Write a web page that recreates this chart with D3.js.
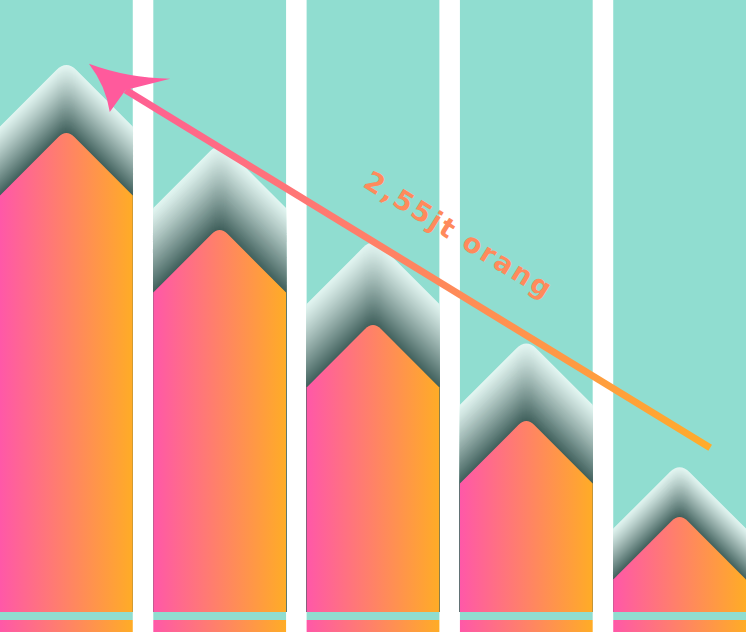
<!DOCTYPE html>
<html>
<head>
<meta charset="utf-8">
<script src="https://cdn.jsdelivr.net/npm/d3@7"></script>
<style>
  html, body { margin: 0; padding: 0; background: #ffffff; }
  svg { display: block; }
</style>
</head>
<body>
<div id="chart"></div>
<script>
// ---- data ----
const categories = ["1", "2", "3", "4", "5"];
const barValues = [5.03, 4.02, 3.03, 2.03, 1.03];
const shadowValues = [5.75, 4.90, 3.90, 2.85, 1.56];
const annotationText = "2,55jt orang";
// arrow annotation in data space (category, fraction across band, value)
const arrowFrom = { cat: "5", frac: 0.73, value: 1.71 };
const arrowTo = { cat: "1", frac: 0.67, value: 5.71 };

// ---- layout ----
const W = 746, H = 633;
const baseY = 612, bgBottom = 620, stripTop = 620, stripBottom = 632;

const svg = d3.select("#chart").append("svg").attr("width", W).attr("height", H);

const x = d3.scaleBand().domain(categories).range([0, W]).paddingInner(0.134).paddingOuter(0);
const y = d3.scaleLinear().domain([0, 6.375]).range([baseY, 0]);

const defs = svg.append("defs");
const g1 = defs.append("linearGradient").attr("id", "barGrad")
  .attr("x1", "0%").attr("y1", "0%").attr("x2", "100%").attr("y2", "0%");
g1.append("stop").attr("offset", "0%").attr("stop-color", "#ff58a8");
g1.append("stop").attr("offset", "100%").attr("stop-color", "#ffac26");

const data = categories.map((c, i) => ({ cat: c, v: barValues[i], s: shadowValues[i] }));

function house(x0, w, peakY, bottom, r) {
  const cx = x0 + w / 2, half = w / 2;
  const shoulder = peakY + half;
  const p = d3.path();
  p.moveTo(x0, bottom);
  p.lineTo(x0, shoulder);
  p.lineTo(cx - r, peakY + r);
  p.quadraticCurveTo(cx, peakY, cx + r, peakY + r);
  p.lineTo(x0 + w, shoulder);
  p.lineTo(x0 + w, bottom);
  p.closePath();
  return p.toString();
}

const cols = svg.selectAll("g.col").data(data).join("g").attr("class", "col");

// background columns
cols.append("rect")
  .attr("x", d => x(d.cat)).attr("y", 0)
  .attr("width", x.bandwidth()).attr("height", bgBottom)
  .attr("fill", "#90ddd0");

// bottom gradient strip
cols.append("rect")
  .attr("x", d => x(d.cat)).attr("y", stripTop)
  .attr("width", x.bandwidth()).attr("height", stripBottom - stripTop)
  .attr("fill", "url(#barGrad)");

// shadow layers (light outer edge to dark inner)
const shadeColor = d3.interpolateRgb("#e2f5f1", "#40605c");
cols.each(function (d) {
  const g = d3.select(this);
  const top = y(d.s), inner = y(d.v);
  const n = Math.max(2, Math.round(inner - top));
  const layers = d3.range(n + 1).map(k => k / n);
  g.selectAll("path.shadow").data(layers).join("path")
    .attr("class", "shadow")
    .attr("d", t => house(x(d.cat), x.bandwidth(), top + (inner - top) * t, baseY, 10 - 3 * t))
    .attr("fill", t => shadeColor(Math.pow(t, 1.15)));
});

// bars
cols.append("path")
  .attr("d", d => house(x(d.cat), x.bandwidth(), y(d.v), baseY, 8))
  .attr("fill", "url(#barGrad)");

// arrow
const ax0 = x(arrowFrom.cat) + x.bandwidth() * arrowFrom.frac, ay0 = y(arrowFrom.value);
const ax1 = x(arrowTo.cat) + x.bandwidth() * arrowTo.frac, ay1 = y(arrowTo.value);
const ang = Math.atan2(ay0 - ay1, ax0 - ax1); // direction from tip back toward start
const ux = Math.cos(ang), uy = Math.sin(ang);
const px = -uy, py = ux; // perpendicular

const ag = defs.append("linearGradient").attr("id", "arrowGrad")
  .attr("gradientUnits", "userSpaceOnUse")
  .attr("x1", ax0).attr("y1", ay0).attr("x2", ax1).attr("y2", ay1);
ag.append("stop").attr("offset", "0%").attr("stop-color", "#ffac2a");
ag.append("stop").attr("offset", "100%").attr("stop-color", "#ff5a9c");

// local arrowhead frame: (along from tip, perpendicular)
const toXY = (a, p) => [ax1 + ux * a + px * p, ay1 + uy * a + py * p];
const headA = toXY(77, -30), headB = toXY(43, 30), headN = toXY(45, 3);
const ctrlA = toXY(40, -8), ctrlB = toXY(26, 10);

svg.append("line")
  .attr("x1", ax0).attr("y1", ay0)
  .attr("x2", headN[0]).attr("y2", headN[1])
  .attr("stroke", "url(#arrowGrad)").attr("stroke-width", 7);

const hp = d3.path();
hp.moveTo(ax1, ay1);
hp.quadraticCurveTo(ctrlA[0], ctrlA[1], headA[0], headA[1]);
hp.lineTo(headN[0], headN[1]);
hp.lineTo(headB[0], headB[1]);
hp.quadraticCurveTo(ctrlB[0], ctrlB[1], ax1, ay1);
hp.closePath();
svg.append("path").attr("d", hp.toString()).attr("fill", "#ff5a9c");

// annotation text
const deg = Math.atan2(ay0 - ay1, ax0 - ax1) * 180 / Math.PI;
svg.append("text")
  .attr("transform", `translate(454,243) rotate(${deg})`)
  .attr("text-anchor", "middle")
  .attr("font-family", "DejaVu Sans, sans-serif")
  .attr("font-weight", "bold")
  .attr("font-size", 27)
  .attr("letter-spacing", 2.5)
  .attr("fill", "#ff8a5c")
  .text(annotationText);
</script>
</body>
</html>
